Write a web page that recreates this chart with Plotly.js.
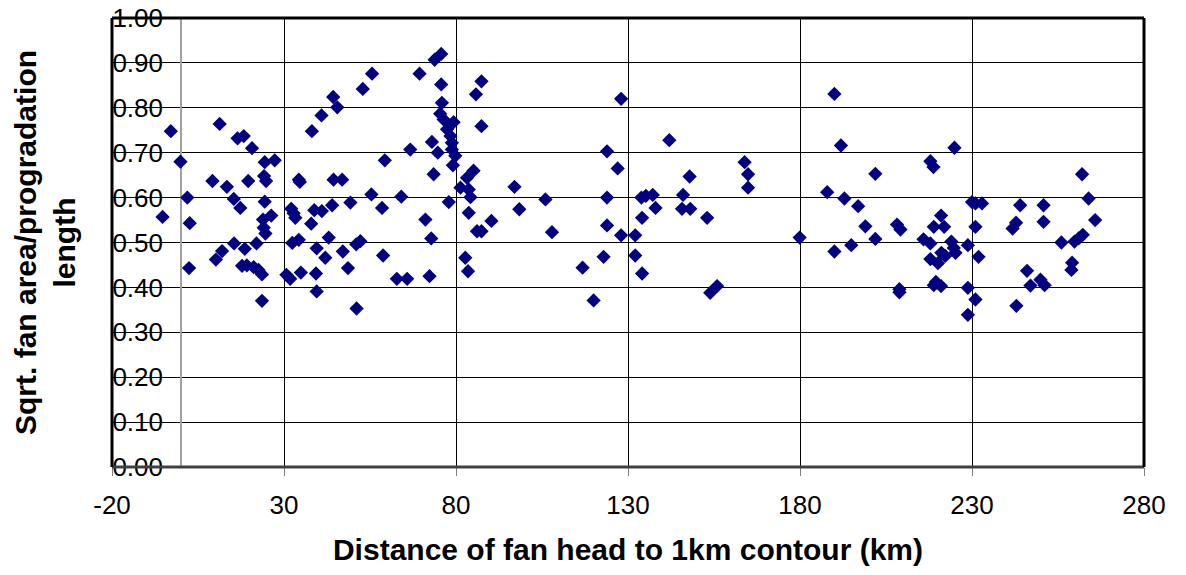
<!DOCTYPE html>
<html>
<head>
<meta charset="utf-8">
<script src="https://cdn.plot.ly/plotly-3.0.1.min.js"></script>
<style>
html,body{margin:0;padding:0;background:#fff;}
#chart{width:1186px;height:575px;}
</style>
</head>
<body>
<div id="chart"></div>
<script>
// Distance of fan head to 1km contour (km)
var distance = [
 -5.3,-2.9,-0.1,1.9,2.6,2.4,9.2,11.3,13.4,10.2,12.0,15.4,17.3,15.5,16.5,18.3,20.7,18.6,17.8,19.2,21.2,22.6,23.6,
 19.6,22.0,24.4,27.3,24.2,24.8,24.4,23.9,26.3,24.1,24.6,23.6,30.7,31.8,32.1,33.3,32.8,34.3,34.6,32.4,34.3,34.9,
 37.9,38.1,40.9,39.5,39.3,39.5,38.8,41.0,42.0,43.0,44.0,44.4,46.9,44.3,45.5,47.1,48.6,49.3,51.0,52.2,51.1,52.9,
 55.6,55.4,
 59.3,58.5,58.8,62.8,65.8,64.1,66.7,69.4,71.1,72.8,72.3,73.0,73.5,74.7,73.8,75.7,75.7,75.9,
 75.4,76.4,79.3,77.4,78.4,78.8,78.8,79.8,79.1,77.9,81.3,83.2,85.1,83.7,84.2,83.7,85.8,87.4,87.4,86.1,87.4,90.3,
 82.7,83.5,97.0,98.4,106.0,107.9,116.8,120.0,122.9,123.9,123.9,123.9,127.0,128.0,128.0,
 132.1,132.1,134.1,134.1,133.9,135.2,137.2,138.0,142.0,146.0,145.7,148.1,147.9,153.0,153.9,155.9,
 163.9,164.9,164.9,179.9,190.0,191.9,187.9,192.9,190.0,194.9,196.9,199.0,201.9,201.9,
 208.2,209.2,208.9,208.9,224.9,217.9,218.8,221.0,218.9,221.9,215.9,217.9,224.0,224.7,225.2,
 221.1,222.2,217.9,220.1,219.5,218.9,221.0,228.8,230.0,231.0,232.9,231.0,231.9,228.8,231.0,228.8,
 244.0,250.8,242.8,241.8,250.8,246.0,247.0,249.9,251.1,242.9,256.0,259.8,261.0,262.2,262.0,263.9,265.8,259.1,258.9
];
// Sqrt. fan area / progradation length
var ratio = [
 0.557,0.748,0.680,0.600,0.543,0.443,0.637,0.764,0.624,0.462,0.481,0.597,0.577,0.498,0.732,0.737,0.710,0.486,0.448,0.449,0.445,0.439,0.429,
 0.637,0.498,0.679,0.683,0.648,0.637,0.591,0.551,0.560,0.533,0.520,0.370,0.428,0.419,0.575,0.555,0.565,0.640,0.635,0.499,0.506,0.433,
 0.542,0.748,0.783,0.487,0.431,0.391,0.572,0.570,0.466,0.511,0.583,0.640,0.640,0.824,0.801,0.480,0.443,0.589,0.496,0.503,0.353,0.842,
 0.876,0.607,
 0.683,0.577,0.471,0.419,0.419,0.602,0.707,0.876,0.551,0.509,0.425,0.724,0.652,0.700,0.907,0.920,0.852,0.811,
 0.787,0.774,0.768,0.752,0.737,0.722,0.707,0.693,0.672,0.590,0.622,0.644,0.660,0.618,0.601,0.566,0.830,0.859,0.759,0.525,0.525,0.548,
 0.466,0.436,0.624,0.574,0.596,0.523,0.444,0.371,0.468,0.538,0.600,0.703,0.665,0.820,0.516,
 0.516,0.471,0.555,0.431,0.600,0.604,0.606,0.577,0.728,0.606,0.575,0.575,0.647,0.555,0.388,0.403,
 0.679,0.652,0.622,0.511,0.831,0.716,0.612,0.598,0.480,0.494,0.581,0.536,0.653,0.508,
 0.540,0.529,0.396,0.389,0.711,0.681,0.668,0.560,0.535,0.535,0.507,0.498,0.502,0.488,0.477,
 0.477,0.470,0.463,0.454,0.412,0.405,0.403,0.494,0.590,0.587,0.587,0.535,0.468,0.399,0.373,0.339,
 0.583,0.583,0.544,0.531,0.546,0.437,0.404,0.417,0.405,0.359,0.500,0.502,0.509,0.517,0.652,0.598,0.550,0.455,0.439
];
var xTickVals = [-20, 30, 80, 130, 180, 230, 280];
var xTickText = ['-20', '30', '80', '130', '180', '230', '280'];
var xTitle = 'Distance of fan head to 1km contour (km)';
var yTitle = 'Sqrt. fan area/progradation<br>length';

var trace = {
  x: distance, y: ratio, type: 'scatter', mode: 'markers',
  marker: {symbol: 'diamond', size: 11, color: '#000080', line: {width: 0}},
  hoverinfo: 'x+y'
};
var font = 'Arial, "Liberation Sans", sans-serif';
var layout = {
  width: 1186, height: 575,
  margin: {l: 112, r: 42, t: 18, b: 108},
  paper_bgcolor: '#ffffff', plot_bgcolor: '#ffffff',
  showlegend: false,
  font: {family: font, color: '#000000'},
  xaxis: {
    range: [-20, 280], tickmode: 'array', tickvals: xTickVals, ticktext: xTickText,
    showgrid: true, gridcolor: '#000000', gridwidth: 1,
    zeroline: true, zerolinecolor: '#a0a0a0', zerolinewidth: 2,
    ticks: 'outside', ticklen: 8, tickcolor: '#808080', tickwidth: 1,
    ticklabelstandoff: 7,
    showline: false,
    tickfont: {family: font, size: 26, color: '#000000'},
    title: {text: '<b>' + xTitle + '</b>', font: {family: font, size: 30, color: '#000000'}, standoff: 19}
  },
  yaxis: {
    range: [0, 1], tick0: 0, dtick: 0.1, tickmode: 'linear', tickformat: '.2f',
    showgrid: true, gridcolor: '#000000', gridwidth: 1,
    zeroline: false, showline: false, ticks: '',
    ticklabelstandoff: -52,
    tickfont: {family: font, size: 26, color: '#000000'},
    title: {text: '<b>' + yTitle + '</b>', font: {family: font, size: 30, color: '#000000'}, standoff: 27}
  },
  shapes: [
    {type: 'line', xref: 'paper', yref: 'paper', x0: 0, x1: 1, y0: 0, y1: 0, line: {color: '#404040', width: 3}},
    {type: 'line', xref: 'paper', yref: 'paper', x0: 0, x1: 1, y0: 1, y1: 1, line: {color: '#000000', width: 3}},
    {type: 'line', xref: 'paper', yref: 'paper', x0: 0, x1: 0, y0: 0, y1: 1, line: {color: '#000000', width: 3}},
    {type: 'line', xref: 'paper', yref: 'paper', x0: 1, x1: 1, y0: 0, y1: 1, line: {color: '#000000', width: 3}}
  ]
};
Plotly.newPlot('chart', [trace], layout, {displayModeBar: false, responsive: false});
</script>
</body>
</html>
